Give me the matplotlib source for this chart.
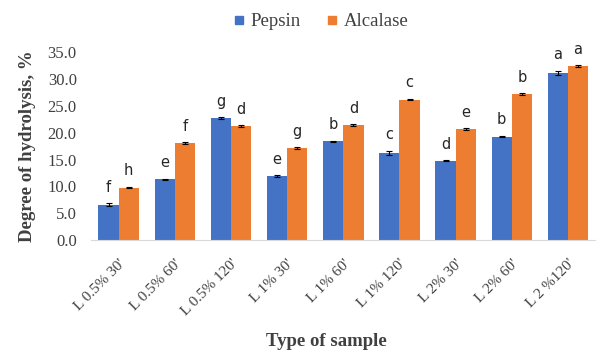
import matplotlib.pyplot as plt
import numpy as np
from matplotlib.lines import Line2D

samples = ["L 0.5% 30'", "L 0.5% 60'", "L 0.5% 120'", "L 1% 30'", "L 1% 60'",
           "L 1% 120'", "L 2% 30'", "L 2% 60'", "L 2 %120'"]
pepsin = [6.6, 11.3, 22.8, 12.0, 18.4, 16.3, 14.8, 19.3, 31.2]
pepsin_err = [0.3, 0.15, 0.15, 0.15, 0.15, 0.35, 0.15, 0.15, 0.35]
alcalase = [9.8, 18.1, 21.3, 17.2, 21.5, 26.2, 20.7, 27.2, 32.4]
alcalase_err = [0.15, 0.15, 0.15, 0.15, 0.15, 0.15, 0.15, 0.15, 0.15]
pepsin_letters = ["f", "e", "g", "e", "b", "c", "d", "b", "a"]
alcalase_letters = ["h", "f", "d", "g", "d", "c", "e", "b", "a"]

blue = "#4472C4"
orange = "#ED7D31"
serif = "Liberation Serif"
txt = "#404040"

fig = plt.figure(figsize=(5.96, 3.51), dpi=100)
ax = fig.add_axes([0.152, 0.316, 0.848, 0.535])

x = np.arange(len(samples))
w = 0.36
ax.bar(x - w / 2, pepsin, w, color=blue, yerr=pepsin_err, capsize=2.5,
       error_kw=dict(elinewidth=0.8, capthick=0.8, ecolor="black"))
ax.bar(x + w / 2, alcalase, w, color=orange, yerr=alcalase_err, capsize=2.5,
       error_kw=dict(elinewidth=0.8, capthick=0.8, ecolor="black"))

# letras de significancia encima de cada barra
for i in range(len(samples)):
    ax.annotate(pepsin_letters[i], (x[i] - w / 2, pepsin[i] + pepsin_err[i]),
                xytext=(0, 6), textcoords="offset points", ha="center", va="bottom",
                fontsize=10.5, family="DejaVu Sans", color="#262626")
    ax.annotate(alcalase_letters[i], (x[i] + w / 2, alcalase[i] + alcalase_err[i]),
                xytext=(0, 6), textcoords="offset points", ha="center", va="bottom",
                fontsize=10.5, family="DejaVu Sans", color="#262626")

ax.set_xlim(-0.5, len(samples) - 0.5)
ax.set_ylim(0, 35)
ax.set_yticks(np.arange(0, 36, 5))
ax.set_yticklabels([f"{v:.1f}" for v in np.arange(0, 36, 5)], family=serif,
                   fontsize=12, color=txt)
ax.set_xticks(x)
ax.set_xticklabels(samples, rotation=45, ha="right", rotation_mode="anchor",
                   family=serif, fontsize=11, color=txt)
ax.tick_params(axis="both", length=0)
ax.tick_params(axis="y", pad=10)
ax.tick_params(axis="x", pad=12)
for s in ["top", "right", "left"]:
    ax.spines[s].set_visible(False)
ax.spines["bottom"].set_color("#D9D9D9")

ax.set_ylabel("Degree of hydrolysis, %", family=serif, fontsize=13.5,
              fontweight="bold", color=txt, labelpad=8)
fig.text(0.547, 0.028, "Type of sample", family=serif, fontsize=13.5, fontweight="bold",
         ha="center", va="center", color=txt)

handles = [Line2D([], [], marker="s", color=blue, linestyle="none", markersize=5.5),
           Line2D([], [], marker="s", color=orange, linestyle="none", markersize=5.5)]
fig.legend(handles, ["Pepsin", "Alcalase"], loc="upper center", bbox_to_anchor=(0.535, 1.01),
           ncol=2, frameon=False, prop=dict(family=serif, size=13.5),
           handletextpad=0.1, columnspacing=1.2, handlelength=1, labelcolor=txt)

fig.savefig("out.png", dpi=100)
